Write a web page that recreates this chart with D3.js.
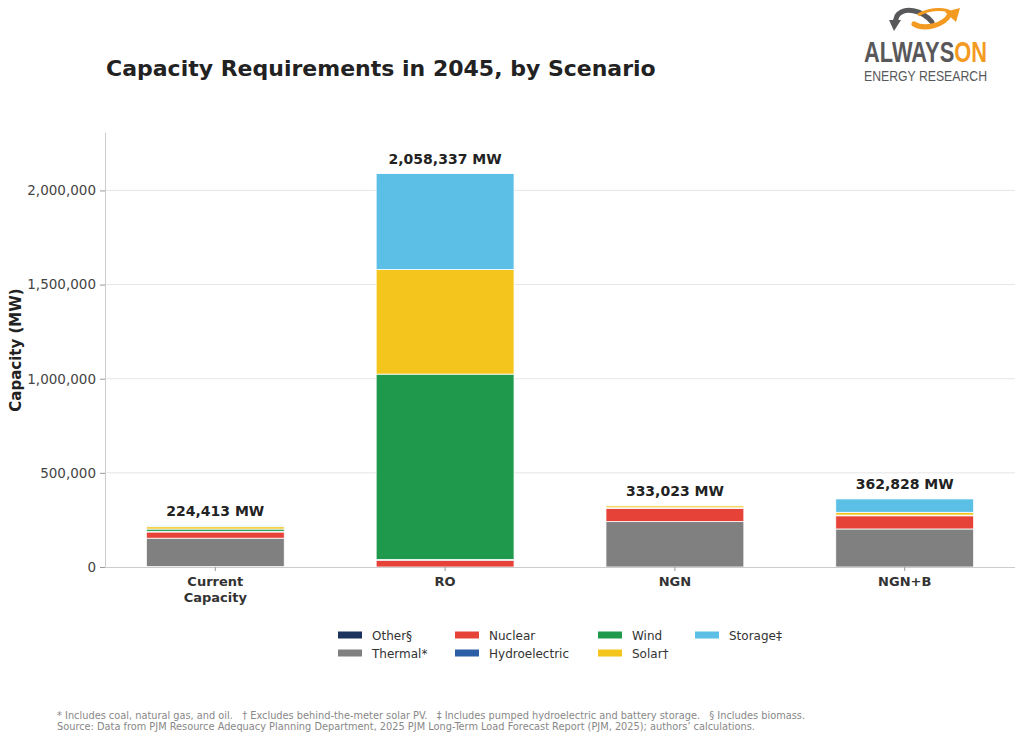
<!DOCTYPE html>
<html>
<head>
<meta charset="utf-8">
<script src="https://cdn.jsdelivr.net/npm/d3@7/dist/d3.min.js"></script>
<style>
  body { margin: 0; background: #fff; }
  svg { display: block; font-family: 'DejaVu Sans', sans-serif; }
</style>
</head>
<body>
<svg id="chart" width="1024" height="741"></svg>
<script>
'use strict';

var scenarios = ['Current\nCapacity', 'RO', 'NGN', 'NGN+B'];
var totalLabels = [224413, 2058337, 333023, 362828];

// stacked bottom to top
var seriesNames = ['Other§', 'Thermal*', 'Nuclear', 'Hydroelectric', 'Wind', 'Solar†', 'Storage‡'];
var other = [2000, 0, 0, 0];
var thermal = [151000, 0, 241000, 202000];
var nuclear = [33000, 36000, 70000, 70000];
var hydro = [3500, 3500, 3500, 3500];
var wind = [12000, 985000, 0, 0];
var solar = [12500, 555000, 10000, 15000];
var storage = [5000, 510000, 0, 71000];
var yTicks = [0, 500000, 1000000, 1500000, 2000000];

var colors = ['#1c335e', '#808080', '#e64238', '#2c5ea6', '#1f9a4c', '#f4c51d', '#5bbfe6'];

var footnote1 = '* Includes coal, natural gas, and oil.   \u2020 Excludes behind-the-meter solar PV.   \u2021 Includes pumped hydroelectric and battery storage.   \u00a7 Includes biomass.';
var footnote2 = 'Source: Data from PJM Resource Adequacy Planning Department, 2025 PJM Long-Term Load Forecast Report (PJM, 2025); authors\u2019 calculations.';

(function () {
  var svg = d3.select('#chart');
  var plotLeft = 105, plotRight = 1015, plotTop = 133, plotBottom = 567;

  var rows = scenarios.map(function (s, i) {
    return {
      scenario: s,
      'Other§': other[i],
      'Thermal*': thermal[i],
      'Nuclear': nuclear[i],
      'Hydroelectric': hydro[i],
      'Wind': wind[i],
      'Solar†': solar[i],
      'Storage‡': storage[i]
    };
  });

  var x = d3.scaleBand().domain(scenarios).range([plotLeft, plotRight])
    .paddingInner(0.4).paddingOuter(0.18);
  var y = d3.scaleLinear().domain([0, 2305000]).range([plotBottom, plotTop]);
  var color = d3.scaleOrdinal().domain(seriesNames).range(colors);

  // gridlines
  svg.append('g').selectAll('line').data(yTicks.slice(1)).enter().append('line')
    .attr('x1', plotLeft).attr('x2', plotRight)
    .attr('y1', function (d) { return y(d); })
    .attr('y2', function (d) { return y(d); })
    .attr('stroke', '#e6e6e6').attr('stroke-width', 1);

  // y axis
  var yAxis = svg.append('g').attr('transform', 'translate(' + plotLeft + ',0)')
    .call(d3.axisLeft(y).tickValues(yTicks).tickFormat(d3.format(',')).tickSize(5).tickPadding(4));
  yAxis.select('.domain').attr('stroke', '#cccccc').attr('d', 'M0.5,' + plotTop + 'V' + plotBottom);
  yAxis.selectAll('.tick line').attr('stroke', '#999');
  yAxis.selectAll('.tick text').attr('fill', '#444').style('font-size', '13.5px')
    .style('font-family', 'DejaVu Sans');

  // stacked bars
  var stack = d3.stack().keys(seriesNames)(rows);
  svg.append('g').selectAll('g').data(stack).enter().append('g')
    .attr('fill', function (d) { return color(d.key); })
    .selectAll('rect').data(function (d) { return d; }).enter().append('rect')
    .attr('x', function (d) { return x(d.data.scenario); })
    .attr('width', x.bandwidth())
    .attr('y', function (d) { return y(d[1]); })
    .attr('height', function (d) { return Math.max(0, y(d[0]) - y(d[1])); })
    .attr('stroke', '#fff').attr('stroke-width', 0.8);

  // x axis
  var xAxis = svg.append('g').attr('transform', 'translate(0,' + plotBottom + ')')
    .call(d3.axisBottom(x).tickSize(4).tickFormat(''));
  xAxis.select('.domain').attr('stroke', '#cccccc').attr('d', 'M' + plotLeft + ',0.5H' + plotRight);
  xAxis.selectAll('.tick line').attr('stroke', '#999');
  xAxis.selectAll('.tick').each(function (d) {
    var t = d3.select(this).append('text').attr('fill', '#333').attr('text-anchor', 'middle')
      .style('font-size', '13px').style('font-weight', 'bold').style('font-family', 'DejaVu Sans');
    d.split('\n').forEach(function (part, i) {
      t.append('tspan').attr('x', 0).attr('y', 19 + i * 16).text(part);
    });
  });

  // totals above bars
  var stackTop = stack[stack.length - 1];
  svg.append('g').selectAll('text').data(rows).enter().append('text')
    .attr('x', function (d) { return x(d.scenario) + x.bandwidth() / 2; })
    .attr('y', function (d, i) { return y(stackTop[i][1]) - 10; })
    .attr('text-anchor', 'middle').attr('fill', '#222')
    .style('font-size', '14px').style('font-weight', 'bold')
    .text(function (d, i) { return d3.format(',')(totalLabels[i]) + ' MW'; });

  // y label
  svg.append('text').attr('transform', 'translate(21,' + ((plotTop + plotBottom) / 2) + ') rotate(-90)')
    .attr('text-anchor', 'middle').attr('fill', '#222')
    .style('font-size', '15px').style('font-weight', 'bold').text('Capacity (MW)');

  // title
  svg.append('text').attr('x', 106).attr('y', 76).attr('fill', '#222')
    .style('font-size', '22px').style('font-weight', 'bold')
    .text('Capacity Requirements in 2045, by Scenario');

  // legend, filled column by column
  var legendX = [338, 455, 598, 695];
  var legendY = [635, 653];
  var legend = svg.append('g').selectAll('g').data(seriesNames).enter().append('g')
    .attr('transform', function (d, i) {
      return 'translate(' + legendX[Math.floor(i / 2)] + ',' + legendY[i % 2] + ')';
    });
  legend.append('rect').attr('x', 0).attr('y', -3.5).attr('width', 24).attr('height', 7)
    .attr('fill', function (d) { return color(d); });
  legend.append('text').attr('x', 34).attr('y', 4.5).attr('fill', '#333')
    .style('font-size', '12px').text(function (d) { return d; });

  // footnotes
  svg.append('text').attr('x', 57).attr('y', 719).attr('fill', '#888')
    .style('white-space', 'pre').attr('xml:space', 'preserve')
    .style('font-size', '9.6px').style('font-family', 'DejaVu Sans Condensed, Liberation Sans Narrow, sans-serif')
    .attr('textLength', 748).attr('lengthAdjust', 'spacingAndGlyphs').text(footnote1);
  svg.append('text').attr('x', 57).attr('y', 730).attr('fill', '#888')
    .style('font-size', '9.6px').style('font-family', 'DejaVu Sans Condensed, Liberation Sans Narrow, sans-serif')
    .attr('textLength', 698).attr('lengthAdjust', 'spacingAndGlyphs').text(footnote2);

  // logo
  var logo = svg.append('g');
  logo.append('path').attr('d', 'M932,22 C922,10 904,6 897,16 L895,22')
    .attr('fill', 'none').attr('stroke', '#58585a').attr('stroke-width', 5).attr('stroke-linecap', 'round');
  logo.append('path').attr('d', 'M889,20 L901,20 L894,31 Z').attr('fill', '#58585a');
  logo.append('path').attr('d', 'M914,24 C924,30 944,26 950,14')
    .attr('fill', 'none').attr('stroke', '#f39a21').attr('stroke-width', 5).attr('stroke-linecap', 'round');
  logo.append('path').attr('d', 'M918,15 C930,8 946,8 952,13').attr('fill', 'none')
    .attr('stroke', '#f39a21').attr('stroke-width', 3);
  logo.append('path').attr('d', 'M945,12 L960,8 L956,22 Z').attr('fill', '#f39a21');
  var brand = logo.append('text').attr('x', 0).attr('y', 0)
    .style('font-family', 'Liberation Sans Narrow, sans-serif').style('font-weight', 'bold')
    .style('font-size', '30px');
  brand.append('tspan').attr('fill', '#58585a').text('ALWAYS');
  brand.append('tspan').attr('fill', '#f39a21').text('ON');
  var brandWidth = brand.node().getComputedTextLength() || 123;
  brand.attr('transform', 'translate(864,62) scale(' + (123 / brandWidth) + ',1)');
  logo.append('text').attr('x', 864).attr('y', 81).attr('fill', '#58585a')
    .style('font-family', 'Liberation Sans Narrow, sans-serif')
    .style('font-size', '14px').attr('textLength', 123).attr('lengthAdjust', 'spacingAndGlyphs').text('ENERGY RESEARCH');
})();
</script>
</body>
</html>
